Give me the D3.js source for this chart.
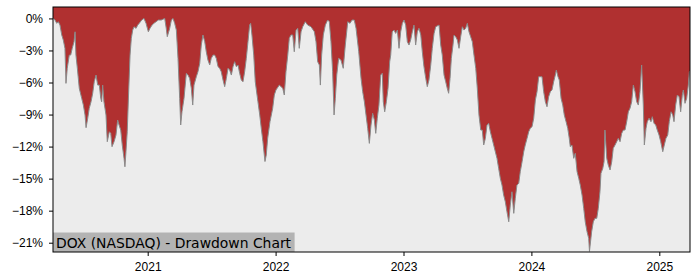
<!DOCTYPE html>
<html>
<head>
<meta charset="utf-8">
<script src="https://cdn.jsdelivr.net/npm/d3@7"></script>
<style>
  body { margin: 0; background: #fff; }
  svg { display: block; font-family: "DejaVu Sans", sans-serif; }
  .axis text { font-size: 12px; fill: #000; }
  .axis line { stroke: #000; }
</style>
</head>
<body>
<svg width="700" height="280"></svg>
<script>
// drawdown in %, time in decimal years
const years = [2020.260,2020.262,2020.275,2020.289,2020.301,2020.314,2020.328,2020.340,2020.353,2020.361,2020.371,2020.387,2020.398,2020.410,2020.424,2020.432,2020.439,2020.450,2020.465,2020.484,2020.497,2020.510,2020.518,2020.531,2020.543,2020.557,2020.570,2020.582,2020.596,2020.609,2020.622,2020.633,2020.640,2020.648,2020.658,2020.674,2020.684,2020.700,2020.711,2020.721,2020.737,2020.752,2020.765,2020.776,2020.789,2020.801,2020.815,2020.822,2020.830,2020.840,2020.851,2020.862,2020.872,2020.883,2020.893,2020.909,2020.922,2020.934,2020.953,2020.971,2020.987,2021.005,2021.018,2021.034,2021.049,2021.065,2021.083,
  2021.106,2021.133,2021.145,2021.153,2021.172,2021.185,2021.198,2021.211,2021.224,2021.237,2021.250,2021.258,2021.268,2021.284,2021.302,2021.315,2021.328,2021.341,2021.352,2021.362,2021.380,2021.393,2021.407,2021.419,2021.432,2021.446,2021.458,2021.471,2021.485,2021.497,2021.511,2021.524,2021.536,2021.550,2021.563,2021.575,2021.589,2021.602,2021.615,2021.628,2021.641,2021.654,2021.667,2021.680,2021.693,2021.706,2021.719,2021.732,2021.745,2021.758,2021.771,2021.784,2021.797,2021.805,2021.815,2021.829,2021.841,2021.862,2021.876,2021.888,2021.901,2021.917,
  2021.927,2021.938,2021.956,2021.977,2021.990,2022.003,2022.029,2022.056,2022.068,2022.081,2022.095,2022.107,2022.120,2022.134,2022.146,2022.160,2022.173,2022.185,2022.199,2022.212,2022.232,2022.251,2022.277,2022.303,2022.316,2022.329,2022.342,2022.350,2022.360,2022.373,2022.389,2022.407,2022.420,2022.433,2022.446,2022.457,2022.467,2022.478,2022.493,2022.511,2022.529,2022.545,2022.556,2022.564,2022.582,2022.597,2022.615,2022.629,2022.650,2022.668,2022.681,2022.694,2022.707,2022.720,2022.733,2022.746,2022.759,2022.772,
  2022.783,2022.795,2022.808,2022.822,2022.834,2022.842,2022.853,2022.866,2022.879,2022.892,2022.900,2022.912,2022.926,2022.939,2022.952,2022.965,2022.978,2022.991,2023.004,2023.017,2023.030,2023.043,2023.056,2023.069,2023.082,2023.095,2023.108,2023.121,2023.135,2023.147,2023.160,2023.174,2023.186,2023.199,2023.213,2023.225,2023.239,2023.252,2023.278,2023.291,2023.303,2023.317,2023.330,2023.342,2023.353,2023.364,2023.374,2023.387,2023.395,2023.408,2023.421,2023.434,2023.447,2023.460,2023.473,2023.486,2023.499,2023.512,2023.525,2023.538,2023.551,2023.565,2023.577,2023.590,2023.604,2023.616,
  2023.627,2023.640,2023.653,2023.666,2023.679,2023.692,2023.705,2023.718,2023.731,2023.744,2023.757,2023.770,2023.783,2023.796,2023.809,2023.823,2023.835,2023.848,2023.862,2023.874,2023.887,2023.901,2023.913,2023.927,2023.940,2023.952,2023.966,2023.979,2023.991,2024.005,2024.018,2024.031,2024.044,2024.057,2024.070,2024.083,2024.096,2024.109,2024.122,2024.135,2024.148,2024.161,2024.174,2024.187,2024.195,2024.208,2024.218,2024.232,2024.245,2024.257,2024.271,2024.284,2024.296,2024.304,2024.317,2024.331,2024.343,2024.357,2024.370,2024.382,2024.396,2024.409,2024.421,2024.435,2024.448,2024.454,
  2024.471,2024.484,2024.497,2024.511,2024.523,2024.536,2024.544,2024.558,2024.568,2024.575,2024.589,2024.601,2024.615,2024.628,2024.640,2024.654,2024.667,2024.679,2024.693,2024.706,2024.719,2024.732,2024.745,2024.758,2024.771,2024.784,2024.797,2024.810,2024.823,2024.836,2024.849,2024.862,2024.875,2024.883,2024.896,2024.906,2024.920,2024.935,2024.945,2024.959,2024.972,2024.984,2024.998,2025.011,2025.027,2025.039,2025.052,2025.066,2025.078,2025.092,2025.105,2025.115,2025.128,2025.141,2025.154,2025.167,2025.180,2025.188,2025.201,2025.214,2025.227,2025.235,2025.240];
const drawdown = [0,0,-0.15,-0.46,-0.31,-0.62,-1.55,-2.02,-2.80,-6.08,-4.67,-3.43,-3.43,-2.80,-2.18,-1.25,-3.43,-4.67,-6.54,-7.48,-8.11,-9.04,-10.23,-9.35,-8.42,-7.80,-7.01,-5.93,-5.30,-6.24,-6.24,-7.48,-7.80,-6.24,-7.80,-9.04,-11.54,-10.61,-10.76,-12.01,-11.54,-10.92,-9.51,-9.98,-10.45,-11.85,-13.10,-13.89,-12.48,-10.61,-6.86,-3.43,-1.86,-1.09,-0.78,-0.93,-0.62,-0.46,-0.15,0,-0.46,-1.25,-0.93,-0.62,-0.46,-0.31,-0.15,
  -0.15,0,-0.93,-1.71,-0.93,-0.15,0,-0.46,-1.09,-3.74,-7.48,-9.98,-8.74,-7.48,-5.14,-5.30,-5.61,-6.54,-8.11,-6.24,-5.46,-4.99,-4.20,-2.49,-1.55,-2.18,-3.12,-3.90,-4.36,-3.74,-3.43,-3.43,-3.74,-4.52,-4.67,-4.99,-5.77,-6.39,-5.61,-4.67,-4.83,-5.30,-4.52,-4.05,-4.52,-4.36,-5.14,-5.77,-5.93,-4.99,-3.74,-2.18,-0.62,-0.46,-1.55,-3.43,-5.93,-7.80,-9.04,-10.29,-11.54,-13.40,
  -12.79,-11.23,-9.67,-8.42,-7.17,-6.70,-6.24,-6.54,-7.17,-4.99,-3.43,-1.86,-1.55,-1.55,-3.12,-1.09,-0.93,-2.80,-1.25,-0.78,-0.31,-0.62,-0.78,-1.25,-2.18,-4.05,-4.36,-6.24,-3.43,-1.55,-0.62,-0.15,-0.31,-2.18,-4.99,-9.04,-7.48,-5.30,-3.74,-3.90,-4.67,-2.49,-1.25,-0.31,-0.46,-0.15,-0.15,-0.93,-3.12,-5.61,-6.86,-7.80,-9.04,-10.29,-11.70,-9.98,-8.89,-9.51,
  -10.76,-9.35,-8.11,-5.30,-5.14,-7.80,-8.74,-7.80,-6.54,-4.05,-3.43,-1.25,-1.09,-1.40,-1.09,-2.80,-1.25,-0.46,-0.15,-0.62,-2.18,-2.49,-2.02,-1.25,-0.62,-2.49,-1.25,-0.93,-1.55,-3.12,-4.52,-5.61,-6.39,-5.77,-4.36,-2.80,-1.40,-0.78,-0.62,-2.49,-3.43,-5.30,-5.93,-6.54,-7.01,-5.61,-3.74,-2.49,-1.55,-1.71,-2.02,-2.80,-1.71,-0.78,-1.09,-0.93,-0.46,-1.25,-1.71,-2.18,-3.43,-4.67,-6.54,-9.04,-10.45,-10.45,
  -11.85,-11.23,-9.98,-9.82,-10.61,-11.23,-11.85,-12.48,-13.10,-14.04,-14.97,-15.60,-16.54,-17.16,-18.10,-19.04,-17.47,-16.23,-18.25,-16.84,-15.60,-15.44,-14.35,-13.42,-12.48,-11.85,-11.23,-10.61,-10.29,-10.14,-9.35,-7.64,-6.86,-5.46,-5.46,-5.46,-6.86,-7.80,-8.27,-7.33,-6.86,-6.70,-5.93,-5.30,-4.83,-5.46,-5.77,-7.48,-8.11,-9.04,-9.67,-10.29,-11.23,-12.01,-11.85,-13.10,-12.63,-14.35,-14.97,-15.60,-16.54,-17.78,-19.04,-19.97,-20.59,-21.81,
  -19.97,-19.04,-18.72,-18.72,-17.78,-16.23,-14.50,-14.04,-13.42,-10.45,-13.10,-13.73,-14.19,-13.42,-12.16,-11.85,-11.54,-11.23,-11.54,-10.76,-10.45,-10.45,-9.67,-8.74,-8.42,-7.80,-6.24,-6.86,-7.80,-8.11,-6.86,-4.36,-8.11,-11.85,-10.29,-9.67,-9.35,-9.67,-9.20,-9.82,-9.98,-10.45,-10.92,-11.54,-12.48,-11.85,-11.23,-10.92,-9.67,-8.74,-9.04,-9.67,-8.11,-7.17,-7.33,-8.74,-7.17,-6.70,-7.95,-7.48,-6.24,-4.99,-4.90];

const yTicks = [0, -3, -6, -9, -12, -15, -18, -21];
const xTicks = [2021, 2022, 2023, 2024, 2025];
const title = "DOX (NASDAQ) - Drawdown Chart";

const data = years.map((t, i) => ({t: t, v: drawdown[i]}));

const pLeft = 53, pRight = 690, pTop = 7, pBottom = 252;
const x = d3.scaleLinear().domain([2020.2596, 2025.2400]).range([pLeft, pRight]);
const y = d3.scaleLinear().domain([-21.87, 1.07]).range([pBottom, pTop]);

const svg = d3.select("svg");

svg.append("defs").append("clipPath").attr("id", "plot")
  .append("rect").attr("x", pLeft).attr("y", pTop)
  .attr("width", pRight - pLeft).attr("height", pBottom - pTop);

svg.append("rect")
  .attr("x", pLeft).attr("y", pTop)
  .attr("width", pRight - pLeft).attr("height", pBottom - pTop)
  .attr("fill", "#ececec");

const g = svg.append("g").attr("clip-path", "url(#plot)");

g.append("path")
  .datum(data)
  .attr("fill", "#b03030")
  .attr("d", d3.area().x(d => x(d.t)).y0(pTop).y1(d => y(d.v)));

g.append("path")
  .datum(data)
  .attr("fill", "none")
  .attr("stroke", "#8a8a8a")
  .attr("stroke-width", 1)
  .attr("d", d3.line().x(d => x(d.t)).y(d => y(d.v)));

// label box in the lower left corner
const lbl = svg.append("g");
const txt = lbl.append("text")
  .attr("x", pLeft + 3).attr("y", pBottom - 4.5)
  .attr("font-size", "13.9px")
  .attr("fill", "#000")
  .text(title);
const bb = txt.node().getBBox();
lbl.insert("rect", "text")
  .attr("x", pLeft).attr("y", pBottom - 19.5)
  .attr("width", bb.width + 6).attr("height", 19.5)
  .attr("fill", "#b3b3b3");

const fmt = d => d === 0 ? "0%" : "\u2212" + Math.abs(d) + "%";

svg.append("g")
  .attr("class", "axis")
  .attr("transform", `translate(${pLeft},0)`)
  .call(d3.axisLeft(y).tickValues(yTicks).tickFormat(fmt).tickSize(4).tickPadding(6))
  .call(a => a.select(".domain").remove());

svg.append("g")
  .attr("class", "axis")
  .attr("transform", `translate(0,${pBottom})`)
  .call(d3.axisBottom(x).tickValues(xTicks).tickFormat(d3.format("d")).tickSize(4).tickPadding(6))
  .call(a => a.select(".domain").remove());

svg.append("rect")
  .attr("x", pLeft).attr("y", pTop)
  .attr("width", pRight - pLeft).attr("height", pBottom - pTop)
  .attr("fill", "none")
  .attr("stroke", "#000")
  .attr("stroke-width", 1);
</script>
</body>
</html>
